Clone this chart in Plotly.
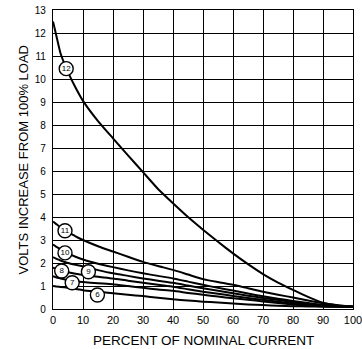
import plotly.graph_objects as go

x = [0, 1, 2.5, 5, 7.5, 10, 15, 20, 25, 30, 35, 40, 45, 50, 55, 60, 65, 70, 75, 80, 85, 90, 95, 100]

curve_12 = [12.5, 11.95, 11.12, 10.3, 9.63, 9.05, 8.17, 7.42, 6.68, 5.95, 5.22, 4.6, 4.0, 3.45, 2.92, 2.42, 1.95, 1.52, 1.15, 0.83, 0.53, 0.27, 0.15, 0.1]
curve_11 = [3.8, 3.7, 3.55, 3.35, 3.16, 3.0, 2.73, 2.5, 2.27, 2.05, 1.87, 1.7, 1.5, 1.3, 1.17, 1.05, 0.9, 0.75, 0.62, 0.5, 0.37, 0.25, 0.16, 0.1]
curve_10 = [2.8, 2.71, 2.6, 2.42, 2.27, 2.15, 1.97, 1.82, 1.68, 1.55, 1.44, 1.33, 1.19, 1.05, 0.92, 0.8, 0.67, 0.55, 0.45, 0.35, 0.26, 0.18, 0.13, 0.1]
curve_9 = [2.25, 2.19, 2.11, 2.0, 1.92, 1.85, 1.69, 1.55, 1.44, 1.33, 1.23, 1.14, 1.02, 0.9, 0.79, 0.68, 0.58, 0.48, 0.39, 0.3, 0.22, 0.15, 0.12, 0.1]
curve_8 = [1.8, 1.75, 1.69, 1.6, 1.53, 1.48, 1.4, 1.33, 1.23, 1.14, 1.05, 0.97, 0.86, 0.75, 0.66, 0.57, 0.48, 0.4, 0.32, 0.25, 0.18, 0.13, 0.11, 0.1]
curve_7 = [1.43, 1.38, 1.33, 1.25, 1.2, 1.17, 1.12, 1.08, 1.0, 0.92, 0.85, 0.79, 0.7, 0.62, 0.54, 0.47, 0.4, 0.33, 0.26, 0.2, 0.15, 0.12, 0.1, 0.1]
curve_6 = [1.0, 0.98, 0.96, 0.92, 0.87, 0.82, 0.75, 0.68, 0.62, 0.56, 0.49, 0.42, 0.37, 0.32, 0.28, 0.24, 0.2, 0.17, 0.14, 0.12, 0.11, 0.1, 0.1, 0.1]

curves = [curve_12, curve_11, curve_10, curve_9, curve_8, curve_7, curve_6]

label_text = ["12", "11", "10", "9", "8", "7", "6"]
label_x = [4.4, 4.0, 4.0, 11.8, 2.9, 6.4, 14.8]
label_y = [10.45, 3.4, 2.44, 1.62, 1.65, 1.14, 0.61]

x_ticks = list(range(0, 101, 10))
y_ticks = list(range(0, 14))

x_title = "PERCENT OF NOMINAL CURRENT"
y_title = "VOLTS INCREASE FROM 100% LOAD"

FONT = "Liberation Sans, Arial, Helvetica, sans-serif"

fig = go.Figure()
for c in curves:
    fig.add_trace(go.Scatter(x=x, y=c, mode="lines", line=dict(color="black", width=2, shape="spline", smoothing=0.5),
                             hoverinfo="skip", showlegend=False))

fig.add_trace(go.Scatter(
    x=label_x, y=label_y, mode="markers+text", text=label_text,
    textposition="middle center",
    textfont=dict(family=FONT, size=8, color="black"),
    marker=dict(symbol="circle", size=14, color="white", line=dict(color="black", width=1.4)),
    showlegend=False, hoverinfo="skip", cliponaxis=False,
))

fig.update_layout(
    width=362, height=349,
    margin=dict(l=53, r=9, t=10, b=40, autoexpand=False),
    paper_bgcolor="white", plot_bgcolor="white",
    font=dict(family=FONT, color="black"),
    showlegend=False,
    annotations=[
        dict(text=x_title, xref="paper", yref="paper", x=0.5, y=0, xanchor="center", yanchor="middle",
             yshift=-31, showarrow=False, font=dict(size=13.5, family=FONT, color="black")),
        dict(text=y_title, xref="paper", yref="paper", x=0, y=0.5, xanchor="center", yanchor="middle",
             xshift=-30, textangle=-90, showarrow=False, font=dict(size=13, family=FONT, color="black")),
    ],
)
fig.update_xaxes(
    range=[0, 100], tickvals=x_ticks, ticktext=[str(v) for v in x_ticks],
    showgrid=True, gridcolor="black", gridwidth=1.2,
    showline=True, linecolor="black", linewidth=1.2, mirror=True,
    ticks="outside", ticklen=1, tickcolor="rgba(0,0,0,0)",
    tickfont=dict(size=11, family=FONT), ticklabeloverflow="allow",
    zeroline=False, automargin=False,
)
fig.update_yaxes(
    range=[0, 13], tickvals=y_ticks, ticktext=[str(v) for v in y_ticks],
    showgrid=True, gridcolor="black", gridwidth=1.2,
    showline=True, linecolor="black", linewidth=1.2, mirror=True,
    ticks="outside", ticklen=4, tickcolor="rgba(0,0,0,0)",
    tickfont=dict(size=10, family=FONT), ticklabeloverflow="allow",
    zeroline=False, automargin=False,
)

fig.write_html("out.html")
